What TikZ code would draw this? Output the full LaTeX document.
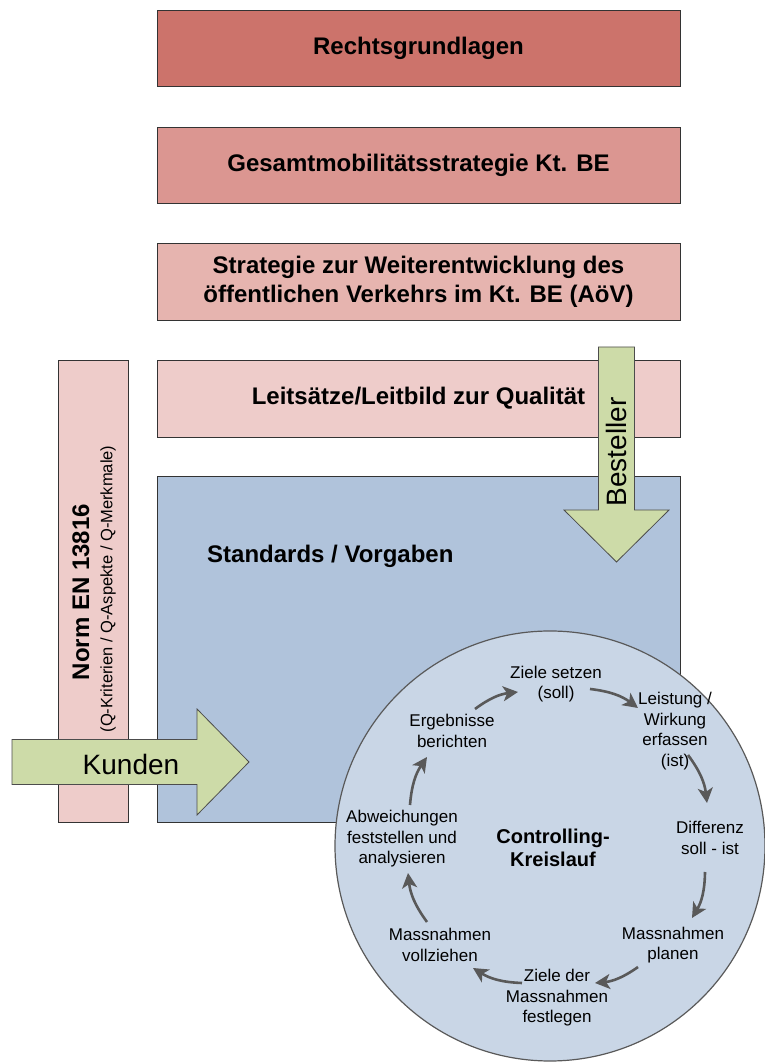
\documentclass[tikz,border=0pt]{standalone}
\usepackage{fontspec}
\setmainfont{Liberation Sans}
\usetikzlibrary{arrows.meta}
\definecolor{lawRed}{RGB}{204,115,107}
\definecolor{stratRed}{RGB}{219,150,145}
\definecolor{oevRed}{RGB}{230,180,175}
\definecolor{leitPink}{RGB}{238,204,202}
\definecolor{stdBlue}{RGB}{176,195,219}
\definecolor{cycBlue}{RGB}{201,214,230}
\definecolor{arrGreen}{RGB}{205,219,168}
\definecolor{cycGray}{RGB}{89,89,89}

\begin{document}
\begin{tikzpicture}[x=1pt,y=1pt,
    layer/.style={draw=black!80, line width=0.8pt, minimum width=523pt, minimum height=76pt,
      inner sep=0pt, align=center, font=\fontsize{24}{29}\selectfont\bfseries},
    flow/.style={fill=arrGreen, draw=black!70, line width=0.8pt},
    cyctext/.style={align=center, font=\fontsize{17}{20.5}\selectfont, inner sep=1pt},
    cyc/.style={cycGray, line width=2.6pt, -{Stealth[length=15pt,width=15pt,inset=4pt]}, bend left=15}]
  \useasboundingbox (0,0) rectangle (764,1064);

  % upper layers
  \node[layer, fill=lawRed] (recht) at (418.5,1015.5) {Rechtsgrundlagen};
  \node[layer, fill=stratRed] (gesamt) at (418.5,899) {Gesamtmobilitätsstrategie Kt. BE};
  \node[layer, fill=oevRed, minimum height=77pt] (oev) at (418.5,782.5)
    {Strategie zur Weiterentwicklung des\\öffentlichen Verkehrs im Kt. BE (AöV)};
  \node[layer, fill=leitPink, minimum height=77pt] (leit) at (418.5,665.5)
    {Leitsätze/Leitbild zur Qualität};

  % norm bar
  \node[draw=black!80, line width=0.8pt, fill=leitPink, minimum width=70pt,
    minimum height=462pt, inner sep=0pt] (norm) at (93,473) {};
  \node[rotate=90, font=\fontsize{24}{29}\selectfont\bfseries] (normtitle) at (81,472) {Norm EN 13816};
  \node[rotate=90, font=\fontsize{16.5}{20}\selectfont] (normsub) at (108,475)
    {(Q-Kriterien / Q-Aspekte / Q-Merkmale)};

  % standards
  \node[draw=black!80, line width=0.8pt, fill=stdBlue, minimum width=523pt,
    minimum height=346pt, inner sep=0pt] (std) at (418.5,415) {};
  \node[anchor=west, inner sep=0pt, font=\fontsize{24}{29}\selectfont\bfseries] (stdtext) at (207,508)
    {Standards / Vorgaben};

  % Kunden arrow
  \draw[flow] (12,279.5) -- (197,279.5) -- (197,249) -- (249,302) -- (197,355)
    -- (197,324.5) -- (12,324.5) -- cycle;
  \node[font=\fontsize{28}{34}\selectfont] (kunden) at (131,300) {Kunden};

  % Besteller arrow
  \draw[flow] (598.5,717) -- (634.5,717) -- (634.5,554) -- (669,554) -- (616.5,502)
    -- (564,554) -- (598.5,554) -- cycle;
  \node[rotate=90, font=\fontsize{28}{34}\selectfont] (best) at (616,612) {Besteller};

  % controlling cycle
  \node[circle, draw=cycGray, line width=1.2pt, fill=cycBlue, minimum size=430pt,
    inner sep=0pt] (kreis) at (550,218) {};
  \node[align=center, font=\fontsize{20}{23}\selectfont\bfseries] (title) at (553,216)
    {Controlling-\\Kreislauf};
  \node[cyctext] (ziele) at (556,380) {Ziele setzen\\(soll)};
  \node[cyctext] (leist) at (675,333) {Leistung /\\Wirkung\\erfassen\\(ist)};
  \node[cyctext] (diff) at (710,226) {Differenz\\soll - ist};
  \node[cyctext] (plan) at (673,119) {Massnahmen\\planen};
  \node[cyctext] (zdm) at (557,66) {Ziele der\\Massnahmen\\festlegen};
  \node[cyctext] (voll) at (440,119) {Massnahmen\\vollziehen};
  \node[cyctext] (abw) at (402,225) {Abweichungen\\feststellen und\\analysieren};
  \node[cyctext] (erg) at (452,333) {Ergebnisse\\berichten};

  \draw[cyc] ([shift={(23,22)}]erg.center) to ([shift={(-38,-8)}]ziele.center);
  \draw[cyc] ([shift={(34,-5)}]ziele.center) to ([shift={(-37,23)}]leist.center);
  \draw[cyc] ([shift={(13,-24)}]leist.center) to ([shift={(-3,35)}]diff.center);
  \draw[cyc] ([shift={(-5,-34)}]diff.center) to ([shift={(19,27)}]plan.center);
  \draw[cyc] ([shift={(-35,-22)}]plan.center) to ([shift={(38,15)}]zdm.center);
  \draw[cyc] ([shift={(-35,15)}]zdm.center) to ([shift={(33,-23)}]voll.center);
  \draw[cyc] ([shift={(-13,23)}]voll.center) to ([shift={(6,-34)}]abw.center);
  \draw[cyc] ([shift={(8,34)}]abw.center) to ([shift={(-25,-26)}]erg.center);
\end{tikzpicture}
\end{document}
